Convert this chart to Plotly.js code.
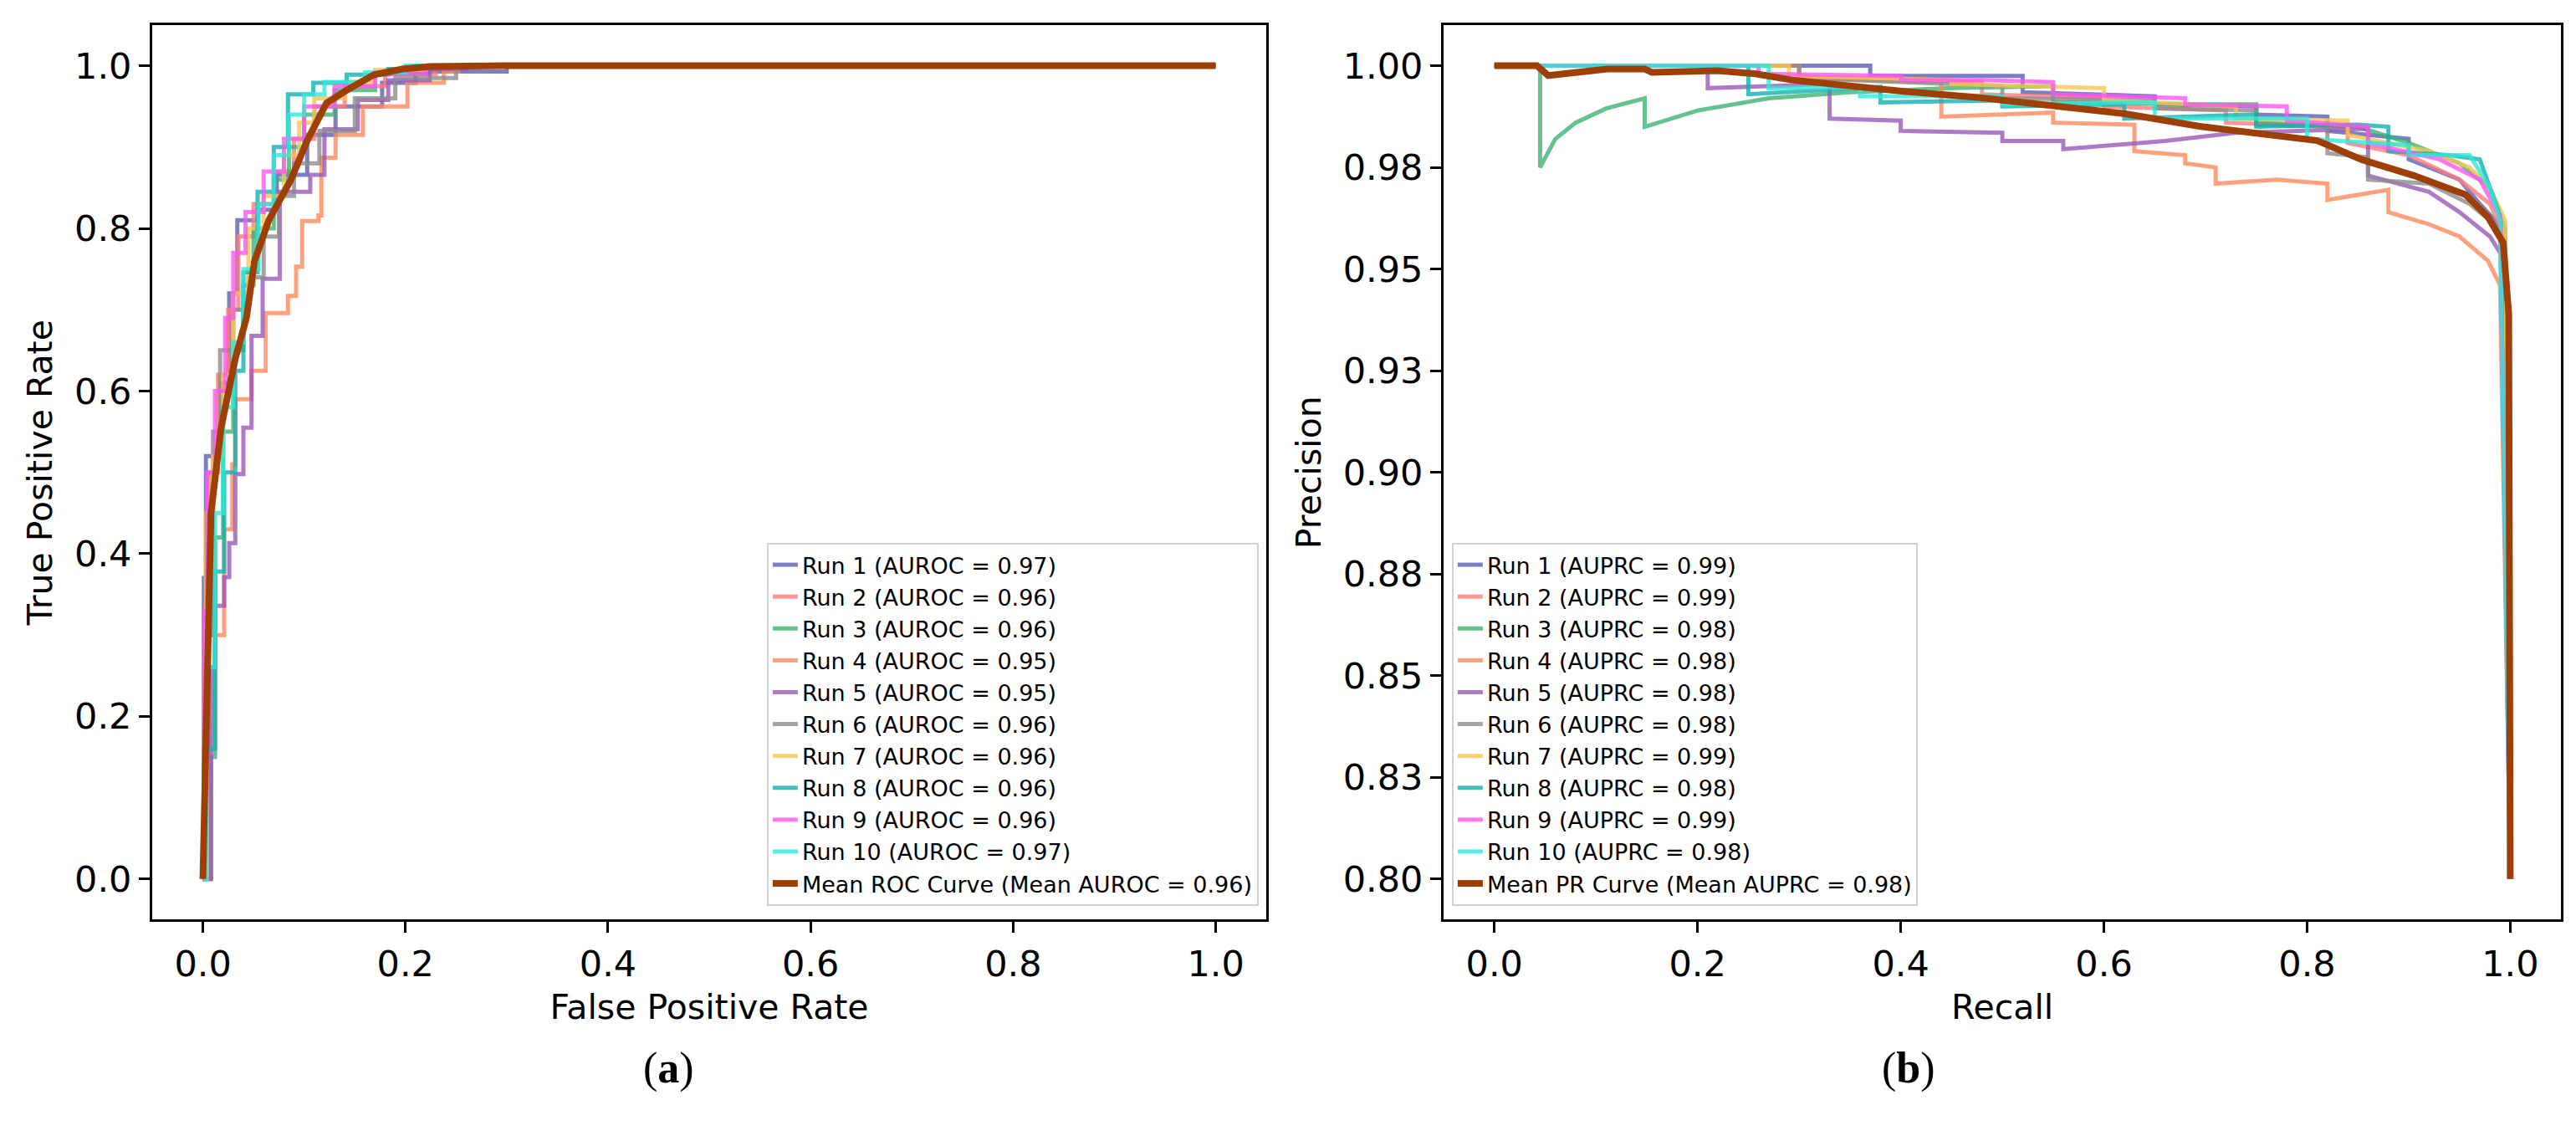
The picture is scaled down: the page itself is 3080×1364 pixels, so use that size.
<!DOCTYPE html>
<html>
<head>
<meta charset="utf-8">
<script src="https://cdn.plot.ly/plotly-3.0.1.min.js"></script>
<style>
    body { margin: 0; background: #fff; }
    #chart { width: 3080px; height: 1364px; }
</style>
</head>
<body>
<div id="chart"></div>
<script>
// run names and colours
const runNames = ["Run 1", "Run 2", "Run 3", "Run 4", "Run 5", "Run 6", "Run 7", "Run 8", "Run 9", "Run 10"];
const runColors = ["#5b5fb5", "#ff7b7b", "#3cb371", "#ff8a5c", "#9b59b6", "#8c8c8c", "#f7c550", "#10b0b0", "#ff55f0", "#2ee8d8"];
const meanColor = "#9e3f06";
const aurocValues = [0.97, 0.96, 0.96, 0.95, 0.95, 0.96, 0.96, 0.96, 0.96, 0.97];
const auprcValues = [0.99, 0.99, 0.98, 0.98, 0.98, 0.98, 0.99, 0.98, 0.99, 0.98];
const meanAuroc = 0.96;
const meanAuprc = 0.98;

// ROC curves (fpr, tpr)
const rocFpr = [
    [0, 0.001, 0.003, 0.018, 0.026, 0.034, 0.054, 0.073, 0.103, 0.131, 0.177, 0.21, 0.3, 1],
    [0, 0.002, 0.006, 0.015, 0.025, 0.035, 0.05, 0.07, 0.09, 0.11, 0.14, 0.18, 0.23, 1],
    [0, 0.008, 0.012, 0.02, 0.03, 0.04, 0.05, 0.07, 0.085, 0.1, 0.13, 0.17, 0.22, 1],
    [0, 0.006, 0.021, 0.029, 0.032, 0.048, 0.062, 0.084, 0.092, 0.098, 0.114, 0.117, 0.131, 0.158, 0.202, 0.238, 0.252, 1],
    [0, 0.008, 0.012, 0.021, 0.026, 0.032, 0.04, 0.048, 0.059, 0.076, 0.106, 0.12, 0.153, 0.183, 0.224, 0.26, 1],
    [0, 0.002, 0.01, 0.017, 0.03, 0.045, 0.06, 0.075, 0.09, 0.115, 0.15, 0.19, 0.25, 1],
    [0, 0.003, 0.01, 0.02, 0.03, 0.045, 0.06, 0.08, 0.095, 0.11, 0.14, 0.17, 0.22, 1],
    [0, 0.001, 0.012, 0.021, 0.032, 0.04, 0.054, 0.07, 0.084, 0.109, 0.142, 0.183, 0.21, 1],
    [0, 0.001, 0.004, 0.012, 0.022, 0.03, 0.042, 0.06, 0.08, 0.1, 0.13, 0.17, 0.22, 1],
    [0, 0.004, 0.012, 0.02, 0.03, 0.04, 0.055, 0.07, 0.085, 0.1, 0.12, 0.16, 0.2, 1],
];
const rocTpr = [
    [0, 0.37, 0.52, 0.61, 0.72, 0.81, 0.823, 0.866, 0.915, 0.95, 0.979, 0.993, 1, 1],
    [0, 0.3, 0.5, 0.62, 0.7, 0.79, 0.83, 0.87, 0.91, 0.95, 0.975, 0.99, 1, 1],
    [0, 0.15, 0.42, 0.55, 0.65, 0.73, 0.8, 0.86, 0.9, 0.94, 0.97, 0.99, 1, 1],
    [0, 0.3, 0.43, 0.51, 0.59, 0.625, 0.696, 0.717, 0.753, 0.809, 0.816, 0.887, 0.915, 0.95, 0.979, 0.993, 1, 1],
    [0, 0.26, 0.336, 0.371, 0.413, 0.498, 0.555, 0.668, 0.738, 0.845, 0.866, 0.922, 0.958, 0.982, 0.996, 1, 1],
    [0, 0.3, 0.55, 0.65, 0.7, 0.74, 0.79, 0.84, 0.88, 0.92, 0.96, 0.985, 1, 1],
    [0, 0.45, 0.52, 0.62, 0.72, 0.8, 0.84, 0.89, 0.93, 0.96, 0.98, 0.995, 1, 1],
    [0, 0.16, 0.378, 0.5, 0.625, 0.746, 0.845, 0.9, 0.965, 0.979, 0.989, 0.996, 1, 1],
    [0, 0.33, 0.5, 0.6, 0.69, 0.77, 0.82, 0.87, 0.91, 0.95, 0.975, 0.99, 1, 1],
    [0, 0.26, 0.45, 0.58, 0.66, 0.75, 0.83, 0.89, 0.94, 0.965, 0.98, 0.992, 1, 1],
];
const meanFpr = [0, 0.004, 0.008, 0.018, 0.032, 0.043, 0.051, 0.065, 0.087, 0.103, 0.122, 0.142, 0.169, 0.197, 0.224, 0.3, 0.6, 1];
const meanTpr = [0, 0.27, 0.45, 0.555, 0.64, 0.69, 0.76, 0.81, 0.86, 0.908, 0.954, 0.97, 0.989, 0.996, 0.999, 1, 1, 1];

// PR curves (recall, precision)
const prRecall = [
    [0, 0.37, 0.37, 0.52, 0.52, 0.65, 0.65, 0.75, 0.75, 0.82, 0.82, 0.9, 0.9, 0.95, 0.97, 0.985, 0.995, 1],
    [0, 0.3, 0.3, 0.48, 0.48, 0.6, 0.6, 0.72, 0.72, 0.84, 0.84, 0.9, 0.95, 0.98, 0.995, 1],
    [0, 0.045, 0.045, 0.06, 0.08, 0.11, 0.148, 0.148, 0.2, 0.27, 0.35, 0.45, 0.55, 0.55, 0.7, 0.75, 0.75, 0.85, 0.9, 0.95, 0.98, 0.995, 1],
    [0, 0.3, 0.3, 0.44, 0.44, 0.55, 0.55, 0.63, 0.63, 0.68, 0.68, 0.71, 0.71, 0.77, 0.82, 0.82, 0.88, 0.88, 0.92, 0.95, 0.978, 0.99, 1],
    [0, 0.21, 0.21, 0.33, 0.33, 0.4, 0.4, 0.5, 0.5, 0.56, 0.56, 0.66, 0.73, 0.86, 0.86, 0.92, 0.95, 0.98, 0.995, 1],
    [0, 0.3, 0.3, 0.5, 0.5, 0.65, 0.65, 0.75, 0.75, 0.82, 0.82, 0.86, 0.86, 0.92, 0.96, 0.98, 0.995, 1],
    [0, 0.29, 0.29, 0.45, 0.45, 0.6, 0.6, 0.73, 0.73, 0.84, 0.84, 0.92, 0.96, 0.98, 0.995, 1],
    [0, 0.25, 0.25, 0.36, 0.38, 0.38, 0.5, 0.5, 0.62, 0.62, 0.75, 0.75, 0.85, 0.88, 0.88, 0.94, 0.97, 0.98, 0.99, 1],
    [0, 0.26, 0.26, 0.4, 0.4, 0.48, 0.55, 0.55, 0.68, 0.68, 0.78, 0.78, 0.86, 0.86, 0.93, 0.97, 0.99, 1],
    [0, 0.27, 0.27, 0.36, 0.36, 0.5, 0.5, 0.65, 0.65, 0.8, 0.8, 0.9, 0.9, 0.96, 0.97, 0.98, 0.99, 1],
];
const prPrecision = [
    [1, 1, 0.9975, 0.9975, 0.9935, 0.9925, 0.9905, 0.99, 0.988, 0.9875, 0.984, 0.982, 0.977, 0.972, 0.966, 0.962, 0.955, 0.8],
    [1, 1, 0.997, 0.996, 0.993, 0.992, 0.99, 0.989, 0.986, 0.985, 0.981, 0.978, 0.972, 0.966, 0.958, 0.8],
    [1, 1, 0.975, 0.982, 0.986, 0.9895, 0.992, 0.985, 0.989, 0.992, 0.9935, 0.9945, 0.995, 0.991, 0.9905, 0.9905, 0.986, 0.985, 0.981, 0.976, 0.97, 0.96, 0.8],
    [1, 1, 0.997, 0.996, 0.9875, 0.9885, 0.986, 0.9855, 0.979, 0.978, 0.976, 0.975, 0.971, 0.972, 0.971, 0.967, 0.9695, 0.964, 0.961, 0.958, 0.952, 0.946, 0.8],
    [1, 1, 0.9945, 0.9955, 0.987, 0.9865, 0.984, 0.9835, 0.9815, 0.9815, 0.9795, 0.9815, 0.9835, 0.9845, 0.973, 0.969, 0.964, 0.958, 0.952, 0.8],
    [1, 1, 0.997, 0.995, 0.992, 0.9915, 0.9895, 0.989, 0.9855, 0.985, 0.9785, 0.9775, 0.972, 0.971, 0.966, 0.962, 0.956, 0.8],
    [1, 1, 0.9975, 0.9965, 0.9955, 0.9945, 0.9915, 0.99, 0.987, 0.9865, 0.983, 0.979, 0.975, 0.97, 0.962, 0.8],
    [1, 1, 0.993, 0.9945, 0.9948, 0.991, 0.9915, 0.99, 0.9905, 0.987, 0.988, 0.985, 0.9855, 0.985, 0.979, 0.978, 0.977, 0.97, 0.963, 0.8],
    [1, 1, 0.998, 0.9975, 0.9965, 0.9965, 0.996, 0.993, 0.992, 0.9905, 0.99, 0.9865, 0.985, 0.981, 0.977, 0.972, 0.963, 0.8],
    [1, 1, 0.9945, 0.9948, 0.9925, 0.9925, 0.9905, 0.991, 0.987, 0.987, 0.982, 0.9805, 0.978, 0.978, 0.974, 0.97, 0.962, 0.8],
];
const meanRecall = [0, 0.042, 0.053, 0.111, 0.148, 0.155, 0.22, 0.257, 0.293, 0.337, 0.403, 0.476, 0.548, 0.621, 0.694, 0.767, 0.81, 0.854, 0.905, 0.956, 0.978, 0.993, 0.9985, 1];
const meanPrecision = [1, 1, 0.9976, 0.9992, 0.9992, 0.9984, 0.9988, 0.998, 0.9965, 0.9953, 0.9937, 0.9922, 0.9902, 0.9882, 0.9851, 0.9828, 0.9816, 0.9769, 0.973, 0.9683, 0.9628, 0.9565, 0.939, 0.8];

const prTickVals = [0.8, 0.825, 0.85, 0.875, 0.9, 0.925, 0.95, 0.975, 1.0];
const prTickText = ["0.80", "0.83", "0.85", "0.88", "0.90", "0.93", "0.95", "0.98", "1.00"];

const FONT = "DejaVu Sans, sans-serif";
const traces = [];

for (let i = 0; i < runNames.length; i++) {
    traces.push({
        x: rocFpr[i], y: rocTpr[i], type: "scatter", mode: "lines",
        line: { color: runColors[i], width: 5, shape: "hv" }, opacity: 0.8,
        name: `${runNames[i]} (AUROC = ${aurocValues[i].toFixed(2)})`,
        xaxis: "x", yaxis: "y", legend: "legend",
    });
}
traces.push({
    x: meanFpr, y: meanTpr, type: "scatter", mode: "lines",
    line: { color: meanColor, width: 8 },
    name: `Mean ROC Curve (Mean AUROC = ${meanAuroc.toFixed(2)})`,
    xaxis: "x", yaxis: "y", legend: "legend",
});

for (let i = 0; i < runNames.length; i++) {
    traces.push({
        x: prRecall[i], y: prPrecision[i], type: "scatter", mode: "lines",
        line: { color: runColors[i], width: 5 }, opacity: 0.8,
        name: `${runNames[i]} (AUPRC = ${auprcValues[i].toFixed(2)})`,
        xaxis: "x2", yaxis: "y2", legend: "legend2",
    });
}
traces.push({
    x: meanRecall, y: meanPrecision, type: "scatter", mode: "lines",
    line: { color: meanColor, width: 8 },
    name: `Mean PR Curve (Mean AUPRC = ${meanAuprc.toFixed(2)})`,
    xaxis: "x2", yaxis: "y2", legend: "legend2",
});

const titleFont = { family: FONT, size: 41, color: "#000" };
const axisBase = {
    showgrid: false, zeroline: false, showline: true, mirror: true,
    linecolor: "#000", linewidth: 3, ticks: "outside", ticklen: 13,
    tickwidth: 3, tickcolor: "#000",
    tickfont: { family: FONT, size: 43, color: "#000" },
};
const legendBase = {
    font: { family: FONT, size: 27, color: "#000" },
    bgcolor: "rgba(255,255,255,0.8)", bordercolor: "#d0d0d0", borderwidth: 2,
    yanchor: "bottom", y: 0.206,
};

const layout = {
    width: 3080, height: 1364,
    margin: { l: 0, r: 0, t: 0, b: 0 },
    paper_bgcolor: "#fff", plot_bgcolor: "#fff",
    showlegend: true,
    xaxis: Object.assign({}, axisBase, {
        domain: [0.0591, 0.4916], range: [-0.05, 1.05], anchor: "y",
        tickvals: [0, 0.2, 0.4, 0.6, 0.8, 1.0], ticktext: ["0.0", "0.2", "0.4", "0.6", "0.8", "1.0"],
        title: { text: "False Positive Rate", font: titleFont, standoff: 14 },
    }),
    yaxis: Object.assign({}, axisBase, {
        domain: [0.194, 0.978], range: [-0.05, 1.05], anchor: "x",
        tickvals: [0, 0.2, 0.4, 0.6, 0.8, 1.0], ticktext: ["0.0", "0.2", "0.4", "0.6", "0.8", "1.0"],
        title: { text: "True Positive Rate", font: titleFont, standoff: 14 },
    }),
    xaxis2: Object.assign({}, axisBase, {
        domain: [0.5604, 0.9942], range: [-0.05, 1.05], anchor: "y2",
        tickvals: [0, 0.2, 0.4, 0.6, 0.8, 1.0], ticktext: ["0.0", "0.2", "0.4", "0.6", "0.8", "1.0"],
        title: { text: "Recall", font: titleFont, standoff: 14 },
    }),
    yaxis2: Object.assign({}, axisBase, {
        domain: [0.194, 0.978], range: [0.79, 1.01], anchor: "x2",
        tickvals: prTickVals, ticktext: prTickText,
        title: { text: "Precision", font: titleFont, standoff: 14 },
    }),
    legend: Object.assign({}, legendBase, { x: 0.4886, xanchor: "right" }),
    legend2: Object.assign({}, legendBase, { x: 0.5636, xanchor: "left" }),
    annotations: [
        { text: "(<b>a</b>)", x: 0.249, y: 0.041, xref: "paper", yref: "paper", showarrow: false,
          font: { family: "Liberation Serif, serif", size: 52, color: "#000" } },
        { text: "(<b>b</b>)", x: 0.752, y: 0.041, xref: "paper", yref: "paper", showarrow: false,
          font: { family: "Liberation Serif, serif", size: 52, color: "#000" } },
    ],
};

Plotly.newPlot("chart", traces, layout, { staticPlot: true });
</script>
</body>
</html>
